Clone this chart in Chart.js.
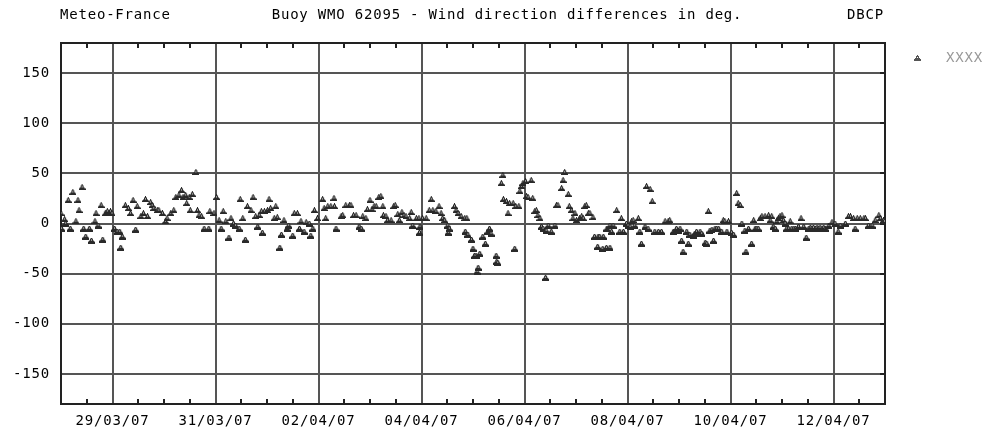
<!DOCTYPE html>
<html>
<head>
<meta charset="utf-8">
<title>Buoy WMO 62095 - Wind direction differences</title>
<script src="https://cdn.jsdelivr.net/npm/chart.js@4.4.0/dist/chart.umd.min.js"></script>
<style>
  html, body { margin: 0; padding: 0; background: #fff; }
</style>
</head>
<body>
<canvas id="diffChart" width="987" height="433"></canvas>
<script>

// Observation times, in days after 28/03/07 00:00
const days = [
  0.00, 0.01, 0.07, 0.09, 0.14, 0.18, 0.23, 0.29, 0.33, 0.35, 0.41, 0.44, 0.48, 0.55, 0.59, 0.66, 0.68, 0.72, 0.78, 0.81,
  0.86, 0.90, 0.93, 0.96, 0.99, 1.04, 1.09, 1.14, 1.16, 1.19, 1.25, 1.31, 1.35, 1.40, 1.45, 1.48, 1.55, 1.60, 1.64, 1.68,
  1.74, 1.77, 1.80, 1.87, 1.90, 1.97, 2.03, 2.06, 2.13, 2.19, 2.23, 2.29, 2.34, 2.37, 2.42, 2.44, 2.49, 2.51, 2.55, 2.62,
  2.65, 2.68, 2.73, 2.78, 2.87, 2.89, 2.97, 3.02, 3.07, 3.11, 3.15, 3.20, 3.26, 3.30, 3.35, 3.39, 3.46, 3.48, 3.53, 3.58,
  3.62, 3.69, 3.73, 3.78, 3.82, 3.85, 3.89, 3.91, 3.95, 4.01, 4.04, 4.07, 4.14, 4.17, 4.20, 4.25, 4.28, 4.33, 4.39, 4.42,
  4.50, 4.53, 4.59, 4.63, 4.66, 4.72, 4.76, 4.82, 4.85, 4.89, 4.92, 4.98, 5.08, 5.11, 5.14, 5.18, 5.24, 5.30, 5.31, 5.34,
  5.44, 5.47, 5.53, 5.60, 5.63, 5.68, 5.73, 5.79, 5.83, 5.86, 5.92, 5.95, 6.00, 6.04, 6.08, 6.12, 6.17, 6.21, 6.25, 6.26,
  6.31, 6.34, 6.41, 6.46, 6.49, 6.54, 6.57, 6.62, 6.66, 6.70, 6.77, 6.80, 6.83, 6.90, 6.95, 6.96, 6.97, 7.02, 7.09, 7.15,
  7.19, 7.22, 7.28, 7.34, 7.38, 7.41, 7.45, 7.51, 7.52, 7.54, 7.64, 7.67, 7.71, 7.77, 7.84, 7.85, 7.88, 7.90, 7.97, 8.00,
  8.03, 8.06, 8.08, 8.10, 8.13, 8.19, 8.24, 8.29, 8.32, 8.35, 8.45, 8.46, 8.48, 8.55, 8.58, 8.59, 8.65, 8.68, 8.71, 8.78,
  8.81, 8.83, 8.89, 8.91, 8.94, 8.97, 9.02, 9.04, 9.07, 9.13, 9.16, 9.20, 9.23, 9.26, 9.30, 9.33, 9.36, 9.41, 9.42, 9.46,
  9.52, 9.59, 9.62, 9.65, 9.72, 9.75, 9.78, 9.85, 9.87, 9.91, 9.94, 9.98, 10.01, 10.07, 10.11, 10.14, 10.17, 10.20, 10.24, 10.27,
  10.33, 10.36, 10.42, 10.43, 10.46, 10.52, 10.53, 10.59, 10.60, 10.66, 10.66, 10.69, 10.72, 10.79, 10.85, 10.88, 10.92, 10.98, 11.01, 11.05,
  11.08, 11.11, 11.14, 11.21, 11.24, 11.27, 11.34, 11.37, 11.40, 11.44, 11.48, 11.53, 11.60, 11.66, 11.73, 11.79, 11.82, 11.89, 11.95, 11.99,
  12.02, 12.05, 12.08, 12.15, 12.18, 12.21, 12.28, 12.31, 12.34, 12.41, 12.44, 12.51, 12.54, 12.57, 12.60, 12.64, 12.67, 12.70, 12.73, 12.77,
  12.83, 12.86, 12.89, 12.93, 12.96, 13.02, 13.06, 13.12, 13.15, 13.19, 13.22, 13.28, 13.30, 13.35, 13.41, 13.45, 13.48, 13.51, 13.54, 13.58,
  13.61, 13.67, 13.74, 13.77, 13.80, 13.83, 13.87, 13.90, 13.93, 13.96, 14.00, 14.03, 14.06, 14.09, 14.13, 14.16, 14.19, 14.23, 14.26, 14.32,
  14.37, 14.42, 14.47, 14.52, 14.55, 14.58, 14.61, 14.65, 14.68, 14.71, 14.74, 14.78, 14.81, 14.84, 14.91, 14.97, 15.03, 15.09, 15.13, 15.23,
  15.29, 15.33, 15.39, 15.42, 15.46, 15.52, 15.59, 15.62, 15.68, 15.75, 15.81, 15.88, 15.91, 15.97, 15.99
];

// Wind direction difference (deg) at each time
const diffs = [
  10, -5, 4, 0, 23, -5, 31, 2, 23, 13, 36, -5, -13, -5, -17, 2, 10, -2, 18, -16,
  10, 12, 10, 12, 10, -5, -8, -8, -24, -13, 18, 15, 10, 23, -6, 17, 7, 10, 24, 7,
  21, 18, 15, 13, 13, 10, 2, 5, 10, 13, 26, 28, 33, 26, 28, 20, 26, 13, 29, 51,
  13, 8, 7, -5, -5, 12, 10, 26, 3, -5, 12, 2, -14, 5, 0, -2, -5, 24, 5, -16,
  17, 13, 26, 7, -3, 8, 12, -9, 12, 13, 24, 15, 5, 17, 6, -24, -11, 3, -5, -2,
  -12, 10, 10, -5, 2, -8, 1, 0, -12, -5, 13, 5, 24, 15, 5, 17, 17, 25, 17, -5,
  7, 8, 18, 18, 18, 8, 8, -3, -5, 7, 5, 14, 23, 14, 17, 17, 26, 27, 17, 8,
  7, 3, 3, 17, 18, 9, 3, 11, 8, 7, 5, 11, -2, 5, 5, -9, -3, 5, 5, 13,
  24, 13, 12, 17, 10, 5, 3, -2, -9, -5, 17, 13, 10, 7, 5, -8, 5, -11, -16, -25,
  -32, -32, -48, -44, -30, -13, -20, -8, -5, -10, -32, -38, -39, 40, 48, 24, 22, 10, 20, 20,
  -25, 17, 17, 32, 37, 40, 42, 27, 26, 43, 25, 12, 13, 8, 5, -3, -5, -54, -7, -2,
  -8, -2, 18, 18, 35, 43, 51, 29, 17, 13, 5, 10, 3, 5, 7, 5, 17, 18, 10, 10,
  6, -13, -23, -13, -13, -25, -13, -24, -5, -24, -2, -8, -2, 13, -8, 5, -8, 0, -2, -3,
  2, 3, -2, 5, -8, -20, -3, 37, -5, 34, 22, -8, -8, -8, 2, 2, 3, -8, -5, -7,
  -5, -17, -28, -8, -20, -11, -12, -10, -8, -8, -10, -19, -20, 12, -7, -6, -17, -5, -5, -5,
  -8, 3, 2, -8, 2, -9, -11, 30, 20, 18, 0, -7, -28, -5, -20, 3, -5, -5, -5, 5,
  7, 7, 8, 3, 7, -3, -5, 2, 5, 7, 8, 3, 0, -5, -5, 2, -5, -5, -5, -3,
  5, -3, -14, -5, -4, -5, -4, -5, -4, -5, -4, -5, -4, -5, -2, 1, 0, -8, -2, 0,
  7, 7, 5, -5, 5, 5, 5, 5, -2, -2, 3, 8, 5, 3, 2
];

// Labelled grid days and their dates
const dateDays = [1, 3, 5, 7, 9, 11, 13, 15];
const dateLabels = ['29/03/07', '31/03/07', '02/04/07', '04/04/07', '06/04/07', '08/04/07', '10/04/07', '12/04/07'];
const yTicks = [-150, -100, -50, 0, 50, 100, 150];

const seriesName = 'XXXX';
const chartTitle = 'Buoy WMO 62095 - Wind direction differences in deg.';

const textFont = { family: '"DejaVu Sans Mono", monospace', size: 14 };

// Small pixel triangle (with a light dot) used as point style
function makeMarker(color) {
  const rows = [
    '...#...',
    '..###..',
    '..#o#..',
    '.#####.',
    '#######',
    '#######'
  ];
  const c = document.createElement('canvas');
  c.width = 7;
  c.height = 6;
  const g = c.getContext('2d');
  rows.forEach((row, y) => {
    for (let x = 0; x < row.length; x++) {
      if (row[x] === '.') continue;
      g.fillStyle = row[x] === 'o' ? '#fff' : color;
      g.fillRect(x, y, 1, 1);
    }
  });
  return c;
}
const marker = makeMarker('#2a2a2a');
const legendMarker = makeMarker('#555');

// Frame round the plot, with 12 hour ticks on top/bottom
const framePlugin = {
  id: 'frame',
  beforeDraw(chart) {
    chart.ctx.letterSpacing = '0.8px';
  },
  beforeDatasetsDraw(chart) {
    const { ctx, chartArea: a, scales } = chart;
    ctx.save();
    ctx.strokeStyle = '#222';
    ctx.lineWidth = 2;
    ctx.strokeRect(a.left, a.top, a.right - a.left, a.bottom - a.top);
    ctx.beginPath();
    for (let d = 0.5; d < 16; d += 0.5) {
      if (dateDays.includes(d)) continue;
      const px = Math.round(scales.x.getPixelForValue(d));
      ctx.moveTo(px, a.top);
      ctx.lineTo(px, a.top + 5);
      ctx.moveTo(px, a.bottom);
      ctx.lineTo(px, a.bottom - 5);
    }
    yTicks.forEach(v => {
      const py = Math.round(scales.y.getPixelForValue(v));
      ctx.moveTo(a.right, py);
      ctx.lineTo(a.right - 5, py);
    });
    ctx.stroke();
    ctx.restore();
  }
};

// Header line and legend
const headerPlugin = {
  id: 'header',
  afterDraw(chart) {
    const ctx = chart.ctx;
    ctx.save();
    ctx.letterSpacing = '0.8px';
    ctx.font = '14px "DejaVu Sans Mono", monospace';
    ctx.fillStyle = '#000';
    ctx.textBaseline = 'middle';
    ctx.textAlign = 'left';
    ctx.fillText('Meteo-France', 60, 15);
    ctx.textAlign = 'center';
    ctx.fillText(chartTitle, 507, 15);
    ctx.textAlign = 'right';
    ctx.fillText('DBCP', 884, 15);

    ctx.drawImage(legendMarker, 914, 55);
    ctx.fillStyle = '#999';
    ctx.textAlign = 'left';
    ctx.fillText(seriesName, 946, 58);
    ctx.restore();
  }
};

// Setup
const data = {
  datasets: [{
    label: seriesName,
    data: days.map((d, i) => ({ x: d, y: diffs[i] })),
    pointStyle: marker,
    pointRadius: 4,
    showLine: false
  }]
};

// Config
const config = {
  type: 'scatter',
  data: data,
  options: {
    responsive: false,
    animation: false,
    devicePixelRatio: 1,
    layout: { padding: { top: 43, right: 102, left: 0, bottom: 0 } },
    plugins: {
      legend: { display: false },
      tooltip: { enabled: false }
    },
    scales: {
      x: {
        type: 'linear',
        min: 0,
        max: 16,
        afterBuildTicks: s => { s.ticks = dateDays.map(v => ({ value: v })); },
        afterFit: s => { s.height = 29; },
        ticks: {
          callback: v => dateLabels[dateDays.indexOf(v)],
          font: textFont,
          color: '#000',
          padding: 9,
          maxRotation: 0,
          autoSkip: false
        },
        grid: { color: '#555', lineWidth: 2, drawTicks: false },
        border: { display: false }
      },
      y: {
        min: -180,
        max: 180,
        afterBuildTicks: s => { s.ticks = yTicks.map(v => ({ value: v })); },
        afterFit: s => { s.width = 61; },
        ticks: { font: textFont, color: '#000', padding: 11 },
        grid: { color: '#555', lineWidth: 2, drawTicks: false },
        border: { display: false }
      }
    }
  },
  plugins: [framePlugin, headerPlugin]
};

// Render
const diffChart = new Chart(document.getElementById('diffChart'), config);
</script>
</body>
</html>
